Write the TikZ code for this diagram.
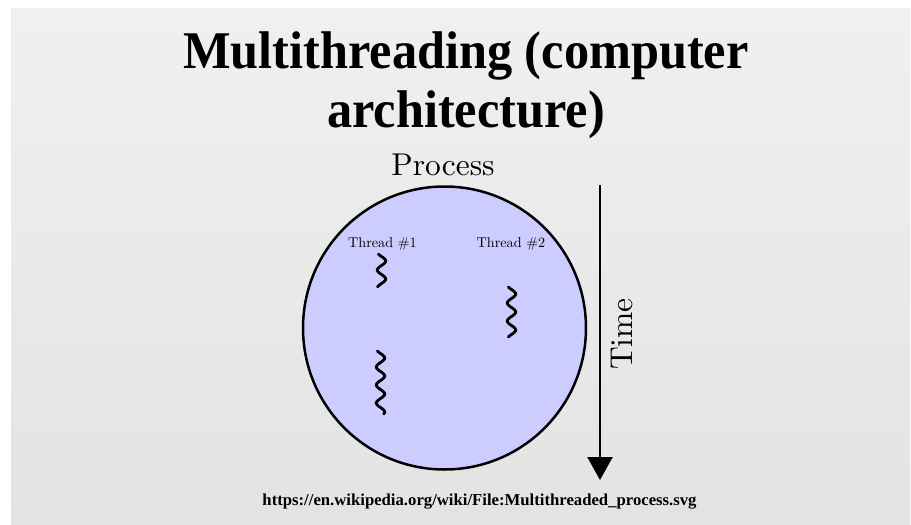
\documentclass[tikz,border=0pt]{standalone}
\usepackage{fontspec}
\usetikzlibrary{arrows.meta}
\newfontfamily\slidefont{Liberation Serif}
\newfontfamily\labelfont{lmroman10-regular.otf}
\definecolor{slidetop}{HTML}{F0F0F0}
\definecolor{slidebottom}{HTML}{E3E3E3}
\definecolor{procfill}{HTML}{CCCCFF}
\tikzset{
  titletext/.style={font=\slidefont\bfseries\fontsize{53}{59}\selectfont, anchor=base, inner sep=0pt},
  labeltext/.style={font=\labelfont\fontsize{31.5}{38}\selectfont, anchor=base, inner sep=0pt},
  threadtext/.style={font=\labelfont\fontsize{14.2}{17}\selectfont, anchor=base, inner sep=0pt},
  squiggle/.style={line width=2.8pt, line cap=round, line join=round},
  timearrow/.style={line width=2.4pt, -{Triangle[width=25pt,length=23pt]}},
}
\begin{document}
\begin{tikzpicture}[x=1pt,y=-1pt]
\useasboundingbox (0,0) rectangle (911,525);
% slide background
\fill[white] (0,0) rectangle (911,525);
\shade[top color=slidetop, bottom color=slidebottom] (11,8) rectangle (910,525);

% title
\node[titletext] (title1) at (466,68) {\scalebox{0.95}[1]{Multithreading (computer}};
\node[titletext] (title2) at (466,127) {\scalebox{0.95}[1]{architecture)}};

% process
\node[labeltext] (proclabel) at (443,175) {Process};
\node[circle, draw, fill=procfill, line width=2.5pt, minimum size=283pt, inner sep=0pt] (proc) at (444.5,328) {};

% threads (wave phase in turns: x/18 of a full period)
\node[threadtext] (thread1) at (382.5,247) {Thread \#1};
\node[threadtext] (thread2) at (511,247) {Thread \#2};
\draw[squiggle] plot[domain=0:33, samples=80, smooth] ({381.5-4.2*cos(\x/18*360+40)}, {254+\x});
\draw[squiggle] plot[domain=0:50, samples=100, smooth] ({511.5-4.2*cos(\x/18*360+40)}, {287+\x});
\draw[squiggle] plot[domain=0:63, samples=120, smooth] ({380.5-4.2*cos(\x/18*360+40)}, {351+\x});

% time axis
\coordinate (tstart) at (600,185);
\coordinate (tend) at (600,480);
\draw[timearrow] (tstart) -- (tend);
\node[labeltext, rotate=90] (timelabel) at (632,334) {Time};

% source
\node[font=\slidefont\bfseries\fontsize{16.7}{19}\selectfont, anchor=base, inner sep=0pt] (source) at (479.5,505) {https://en.wikipedia.org/wiki/File:Multithreaded\_process.svg};
\end{tikzpicture}
\end{document}
